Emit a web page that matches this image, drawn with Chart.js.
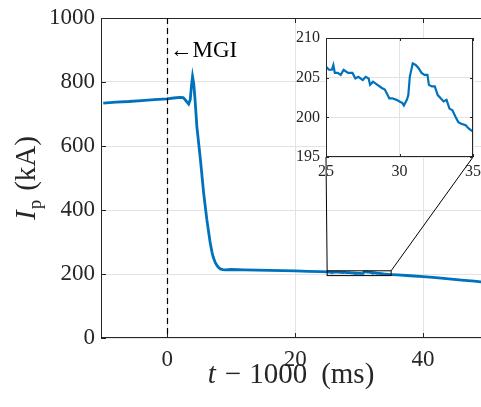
<!DOCTYPE html>
<html>
<head>
<meta charset="utf-8">
<script src="https://cdn.jsdelivr.net/npm/chart.js@4.4.1/dist/chart.umd.min.js"></script>
<style>
  html, body { margin: 0; padding: 0; background: #fff; overflow: hidden; }
  #wrap { position: relative; width: 481px; height: 407px; overflow: hidden; }
  #main { position: absolute; left: 0; top: 0; }
  #inset { position: absolute; left: 280px; top: 30px; }
</style>
</head>
<body>
<div id="wrap">
  <canvas id="main" width="481" height="407" style="width:481px;height:407px"></canvas>
  <canvas id="inset" width="201" height="155" style="width:201px;height:155px"></canvas>
</div>
<script>
// plasma current around the MGI trigger
const timeMs = [
  -10, -8, -6, -4, -2, 0, 1, 2, 2.5, 2.8, 3.1, 3.35, 3.6, 3.8, 3.96, 4.15, 4.35, 4.64,
  5.2, 5.7, 6.2, 6.7, 7.0, 7.2, 7.5, 7.8, 8.0, 8.3, 8.7, 9.1, 10, 12, 14, 16, 18, 20, 22, 24,
  25, 25.2, 25.4, 25.5, 25.6, 25.8, 26, 26.2, 26.5, 26.8, 27, 27.2, 27.5, 27.7, 27.9,
  28, 28.2, 28.5, 28.8, 29, 29.2, 29.3, 29.5, 29.8, 30, 30.2, 30.3, 30.5, 30.6, 30.7,
  30.9, 31.1, 31.3, 31.5, 31.7, 31.9, 32, 32.2, 32.4, 32.6, 32.8, 33, 33.2, 33.4, 33.6,
  33.8, 34, 34.2, 34.5, 34.7, 35,
  36, 38, 40, 42, 44, 46, 48, 49.1
];
const currentKA = [
  734, 737, 739, 742, 745, 747, 750, 752, 751, 745, 737, 731, 745, 790, 817, 795, 745, 660,
  556, 452, 369, 300, 268, 252, 236, 226, 221, 216, 214, 213, 214, 213, 212, 211.5, 210.5, 210, 208.5, 207.5,
  206.4, 206.0, 206.0, 206.6, 205.6, 205.6, 205.35, 206.0, 205.6, 205.6, 204.9, 205.1, 204.7, 205.1, 204.9,
  204.1, 204.5, 204.1, 203.7, 203.5, 202.8, 202.4, 202.4, 202.2, 202.0, 201.8, 201.5, 202.2, 202.8, 205.1,
  206.8, 206.6, 206.2, 205.6, 205.35, 205.35, 204.1, 203.9, 203.9, 202.8, 202.4, 202.0, 202.2, 201.1, 200.9,
  200.1, 199.4, 199.2, 199.0, 198.6, 198.2,
  197, 194.5, 192, 188.5, 185, 181, 177.5, 175
];
const xTicksMain = [0, 20, 40];
const yTicksMain = [0, 200, 400, 600, 800, 1000];
const xTicksInset = [25, 30, 35];
const yTicksInset = [195, 200, 205, 210];
const mgiTime = 0;
const zoomBox = { x0: 25, x1: 35, y0: 195, y1: 210 };

const FONT = "'Liberation Serif', 'DejaVu Serif', serif";
const AXIS = '#262626';
const GRID = '#e3e3e3';
const BLUE = '#0072BD';

const points = timeMs.map((t, i) => ({ x: t, y: currentKA[i] }));

function fixTicks(list) {
  return s => { s.ticks = list.map(v => ({ value: v })); };
}
const plain = v => String(v);

// box + inward tick marks like matlab
function boxPlugin(len, sides) {
  return {
    id: 'box',
    afterDraw(chart) {
      const { ctx, chartArea: a, scales } = chart;
      ctx.save();
      ctx.strokeStyle = AXIS;
      ctx.lineWidth = 1;
      ctx.beginPath();
      if (sides.includes('l')) { ctx.moveTo(a.left + 0.5, a.top); ctx.lineTo(a.left + 0.5, a.bottom); }
      if (sides.includes('r')) { ctx.moveTo(a.right - 0.5, a.top); ctx.lineTo(a.right - 0.5, a.bottom); }
      if (sides.includes('t')) { ctx.moveTo(a.left, a.top + 0.5); ctx.lineTo(a.right, a.top + 0.5); }
      if (sides.includes('b')) { ctx.moveTo(a.left, a.bottom - 0.5); ctx.lineTo(a.right, a.bottom - 0.5); }
      scales.x.ticks.forEach(t => {
        const px = Math.round(scales.x.getPixelForValue(t.value)) + 0.5;
        if (sides.includes('b')) { ctx.moveTo(px, a.bottom); ctx.lineTo(px, a.bottom - len); }
        if (sides.includes('t')) { ctx.moveTo(px, a.top); ctx.lineTo(px, a.top + len); }
      });
      scales.y.ticks.forEach(t => {
        const py = Math.round(scales.y.getPixelForValue(t.value)) + 0.5;
        if (sides.includes('l')) { ctx.moveTo(a.left, py); ctx.lineTo(a.left + len, py); }
        if (sides.includes('r')) { ctx.moveTo(a.right, py); ctx.lineTo(a.right - len, py); }
      });
      ctx.stroke();
      ctx.restore();
    }
  };
}

// inset first so the main chart can read its geometry
const insetChart = new Chart(document.getElementById('inset'), {
  type: 'line',
  data: { datasets: [{ data: points, borderColor: BLUE, borderWidth: 2.2, pointRadius: 0, tension: 0 }] },
  options: {
    responsive: false,
    animation: false,
    layout: { padding: { top: 8, right: 8, left: 0, bottom: 0 } },
    plugins: { legend: { display: false }, tooltip: { enabled: false } },
    scales: {
      x: {
        type: 'linear', min: 25, max: 35,
        afterBuildTicks: fixTicks(xTicksInset),
        afterFit: s => { s.height = 28; s.paddingLeft = 0; s.paddingRight = 0; },
        grid: { color: GRID, drawTicks: false },
        border: { display: false },
        ticks: { font: { family: FONT, size: 16 }, color: AXIS, padding: 5, maxRotation: 0, callback: plain }
      },
      y: {
        min: 195, max: 210,
        afterBuildTicks: fixTicks(yTicksInset),
        afterFit: s => { s.width = 46; s.paddingTop = 0; s.paddingBottom = 0; },
        grid: { color: GRID, drawTicks: false },
        border: { display: false },
        ticks: { font: { family: FONT, size: 16 }, color: AXIS, padding: 6, callback: plain }
      }
    }
  },
  plugins: [{
    id: 'whiteBg',
    beforeDraw(chart) {
      const { ctx, chartArea: a } = chart;
      ctx.save();
      ctx.fillStyle = '#fff';
      ctx.fillRect(a.left, a.top, a.right - a.left, a.bottom - a.top);
      ctx.restore();
    }
  }, boxPlugin(3, 'lrtb')]
});

function drawPieces(ctx, pieces, startX, baseY) {
  let x = startX;
  pieces.forEach(p => {
    ctx.font = p.font;
    ctx.fillText(p.text, x, baseY + (p.dy || 0));
    x += ctx.measureText(p.text).width + (p.gap || 0);
  });
}
function piecesWidth(ctx, pieces) {
  let w = 0;
  pieces.forEach((p, i) => {
    ctx.font = p.font;
    w += ctx.measureText(p.text).width + (i < pieces.length - 1 ? (p.gap || 0) : 0);
  });
  return w;
}

const extras = {
  id: 'extras',
  afterDraw(chart) {
    const { ctx, chartArea: a, scales: { x, y } } = chart;
    ctx.save();

    // MGI marker
    const mx = Math.round(x.getPixelForValue(mgiTime)) + 0.5;
    ctx.strokeStyle = '#000';
    ctx.lineWidth = 1.2;
    ctx.setLineDash([6, 4]);
    ctx.beginPath();
    ctx.moveTo(mx, a.top);
    ctx.lineTo(mx, a.bottom);
    ctx.stroke();
    ctx.setLineDash([]);

    ctx.fillStyle = '#000';
    ctx.textBaseline = 'alphabetic';
    ctx.textAlign = 'left';
    ctx.font = '23px ' + FONT;
    ctx.fillText('\u2190MGI', mx + 2, 57);

    // zoom box + connectors
    const bx0 = x.getPixelForValue(zoomBox.x0), bx1 = x.getPixelForValue(zoomBox.x1);
    const by0 = y.getPixelForValue(zoomBox.y0), by1 = y.getPixelForValue(zoomBox.y1);
    ctx.lineWidth = 1;
    ctx.strokeStyle = '#000';
    ctx.strokeRect(bx0, by1, bx1 - bx0, by0 - by1);
    const ia = insetChart.chartArea;
    const ox = 280, oy = 30;
    ctx.beginPath();
    ctx.moveTo(bx0, by1); ctx.lineTo(ox + ia.left, oy + ia.bottom);
    ctx.moveTo(bx1, by1); ctx.lineTo(ox + ia.right, oy + ia.bottom);
    ctx.stroke();

    // axis titles
    ctx.fillStyle = AXIS;
    const xt = [
      { text: 't', font: 'italic 29px ' + FONT, gap: 9 },
      { text: '\u2212', font: '29px ' + FONT, gap: 8 },
      { text: '1000', font: '29px ' + FONT, gap: 14 },
      { text: '(ms)', font: '29px ' + FONT }
    ];
    const cx = (a.left + a.right) / 2;
    drawPieces(ctx, xt, cx - piecesWidth(ctx, xt) / 2, 383);

    const yt = [
      { text: 'I', font: 'italic 29px ' + FONT, gap: 1 },
      { text: 'p', font: '19px ' + FONT, dy: 6, gap: 9 },
      { text: '(kA)', font: '29px ' + FONT }
    ];
    ctx.translate(35, (a.top + a.bottom) / 2);
    ctx.rotate(-Math.PI / 2);
    drawPieces(ctx, yt, -piecesWidth(ctx, yt) / 2, 0);
    ctx.restore();
  }
};

new Chart(document.getElementById('main'), {
  type: 'line',
  data: { datasets: [{ data: points, borderColor: BLUE, borderWidth: 2.8, pointRadius: 0, tension: 0 }] },
  options: {
    responsive: false,
    animation: false,
    layout: { padding: { top: 18, right: 0, left: 0, bottom: 0 } },
    plugins: { legend: { display: false }, tooltip: { enabled: false } },
    scales: {
      x: {
        type: 'linear', min: -10.35, max: 49.05,
        afterBuildTicks: fixTicks(xTicksMain),
        afterFit: s => { s.height = 69; s.paddingLeft = 0; s.paddingRight = 0; },
        grid: { color: GRID, drawTicks: false },
        border: { display: false },
        ticks: { font: { family: FONT, size: 23 }, color: AXIS, padding: 8, maxRotation: 0, callback: plain }
      },
      y: {
        min: 0, max: 1000,
        afterBuildTicks: fixTicks(yTicksMain),
        afterFit: s => { s.width = 101; s.paddingTop = 0; s.paddingBottom = 0; },
        grid: { color: GRID, drawTicks: false },
        border: { display: false },
        ticks: { font: { family: FONT, size: 23 }, color: AXIS, padding: 6, callback: plain }
      }
    }
  },
  plugins: [boxPlugin(5, 'ltb'), extras]
});
</script>
</body>
</html>
